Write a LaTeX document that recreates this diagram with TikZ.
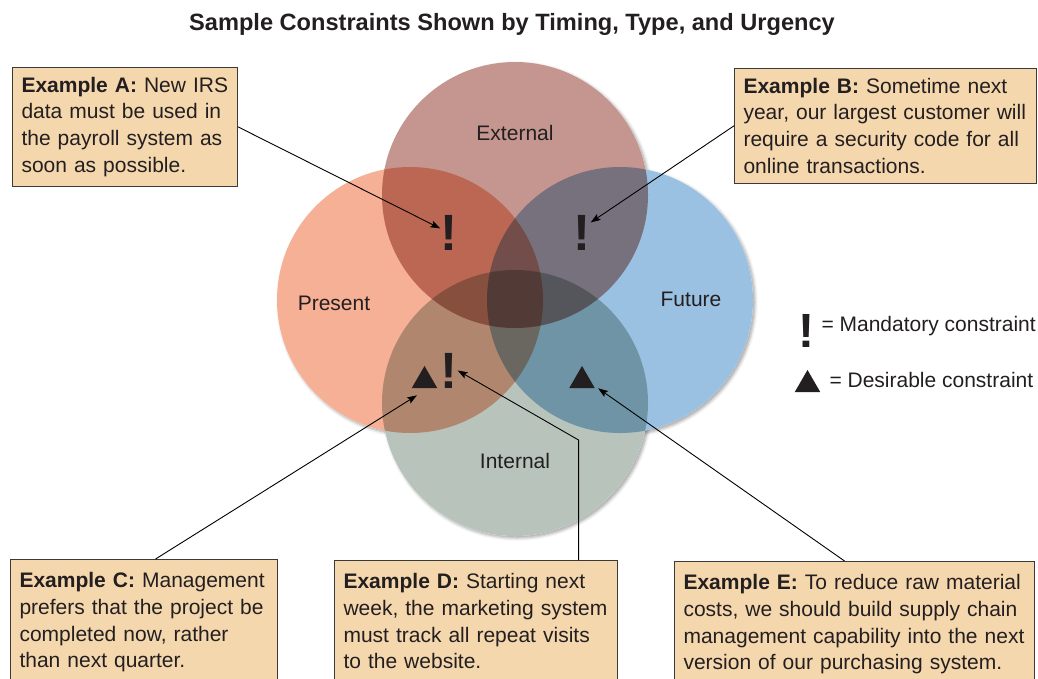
\documentclass[tikz,border=0pt]{standalone}
\usepackage{fontspec}
\setmainfont{Liberation Sans}
\usetikzlibrary{arrows.meta,shapes.geometric,shadows.blur}

\definecolor{ink}{HTML}{231F20}
\definecolor{extc}{HTML}{C4968F}
\definecolor{presc}{HTML}{F5B096}
\definecolor{futc}{HTML}{9BC1E2}
\definecolor{intc}{HTML}{B8C4BB}
\definecolor{notefill}{HTML}{F5D7AE}
\definecolor{noteline}{HTML}{3C3A38}

\tikzset{
  set/.style={circle, minimum size=266pt, inner sep=0pt, outer sep=0pt},
  setname/.style={font=\fontsize{21}{24}\selectfont, text=ink},
  mandatory/.style={font=\fontsize{51}{51}\selectfont\bfseries, text=ink, inner sep=0pt, anchor=base},
  desirable/.style={regular polygon, regular polygon sides=3, fill=ink, minimum size=29.5pt, inner sep=0pt},
  note/.style={draw=noteline, line width=1.1pt, fill=notefill, anchor=north west, align=left,
    inner xsep=9pt, inner ysep=9.5pt, text=ink, font=\fontsize{21}{26.7}\selectfont},
  lownote/.style={note, inner ysep=13pt},
  leader/.style={draw=black, line width=0.9pt, -{Stealth[length=10pt,width=7pt,inset=2pt]}},
}

\begin{document}
\begin{tikzpicture}[x=1pt,y=-1pt]
\useasboundingbox (0,0) rectangle (1038,678);
\clip (0,0) rectangle (1038,678);

\node[font=\fontsize{23.6}{26}\selectfont\bfseries, text=ink, anchor=base] (title) at (512,30)
  {Sample Constraints Shown by Timing, Type, and Urgency};

% shadows under the four sets, then white so they only show outside
\foreach \cx/\cy in {515/195, 410/300, 620/300, 515/403}
  \fill[white, blur shadow={shadow xshift=2pt, shadow yshift=-2pt, shadow blur radius=3pt, shadow opacity=35}]
    (\cx,\cy) circle (133);
\foreach \cx/\cy in {515/195, 410/300, 620/300, 515/403}
  \fill[white] (\cx,\cy) circle (133);

\begin{scope}[blend mode=multiply]
  \node[set, fill=extc] (external) at (515,195) {};
  \node[set, fill=presc] (present) at (410,300) {};
  \node[set, fill=futc] (future) at (620,300) {};
  \node[set, fill=intc] (internal) at (515,403) {};
\end{scope}

\node[setname] (extlabel) at (515,133) {External};
\node[setname] (preslabel) at (334,303) {Present};
\node[setname] (futlabel) at (691,299) {Future};
\node[setname] (intlabel) at (515,461) {Internal};

% markers
\node[mandatory] (mA) at (449,250) {!};
\node[mandatory] (mB) at (582,250) {!};
\node[mandatory] (mD) at (449,388) {!};
\node[desirable] (tC) at (424.5,380.7) {};
\node[desirable] (tE) at (582,380.7) {};

% legend
\node[mandatory, font=\fontsize{48}{48}\selectfont\bfseries] (legmand) at (806,347) {!};
\node[desirable] (legdes) at (807.5,384.7) {};
\node[setname, anchor=base west] (mandtext) at (818,331) {= Mandatory constraint};
\node[setname, anchor=base west] (destext) at (826,387) {= Desirable constraint};

% examples
\node[note, text width=207pt] (boxA) at (12,67)
  {\textbf{Example A:} New IRS\\data must be used in\\the payroll system as\\soon as possible.};
\node[note, text width=284pt] (boxB) at (734,68)
  {\textbf{Example B:} Sometime next\\year, our largest customer will\\require a security code for all\\online transactions.};
\node[lownote, text width=249pt] (boxC) at (10,559)
  {\textbf{Example C:} Management\\prefers that the project be\\completed now, rather\\than next quarter.};
\node[lownote, text width=265pt] (boxD) at (334,560)
  {\textbf{Example D:} Starting next\\week, the marketing system\\must track all repeat visits\\to the website.};
\node[lownote, text width=342pt] (boxE) at (674,561)
  {\textbf{Example E:} To reduce raw material\\costs, we should build supply chain\\management capability into the next\\version of our purchasing system.};

\draw[leader] (boxA.east) -- ([yshift=4pt]mA.west);
\draw[leader] (boxB.west) -- ([yshift=10pt]mB.east);
\draw[leader] ([xshift=11.5pt]boxC.north) -- ([shift={(-7.5pt,-7pt)}]tC.south);
\draw[leader] ([xshift=102.5pt]boxD.north) -- ++(0,-120) -- (mD.east);
\draw[leader] ([xshift=-10pt]boxE.north) -- ([xshift=3pt]tE.corner 3);
\end{tikzpicture}
\end{document}
